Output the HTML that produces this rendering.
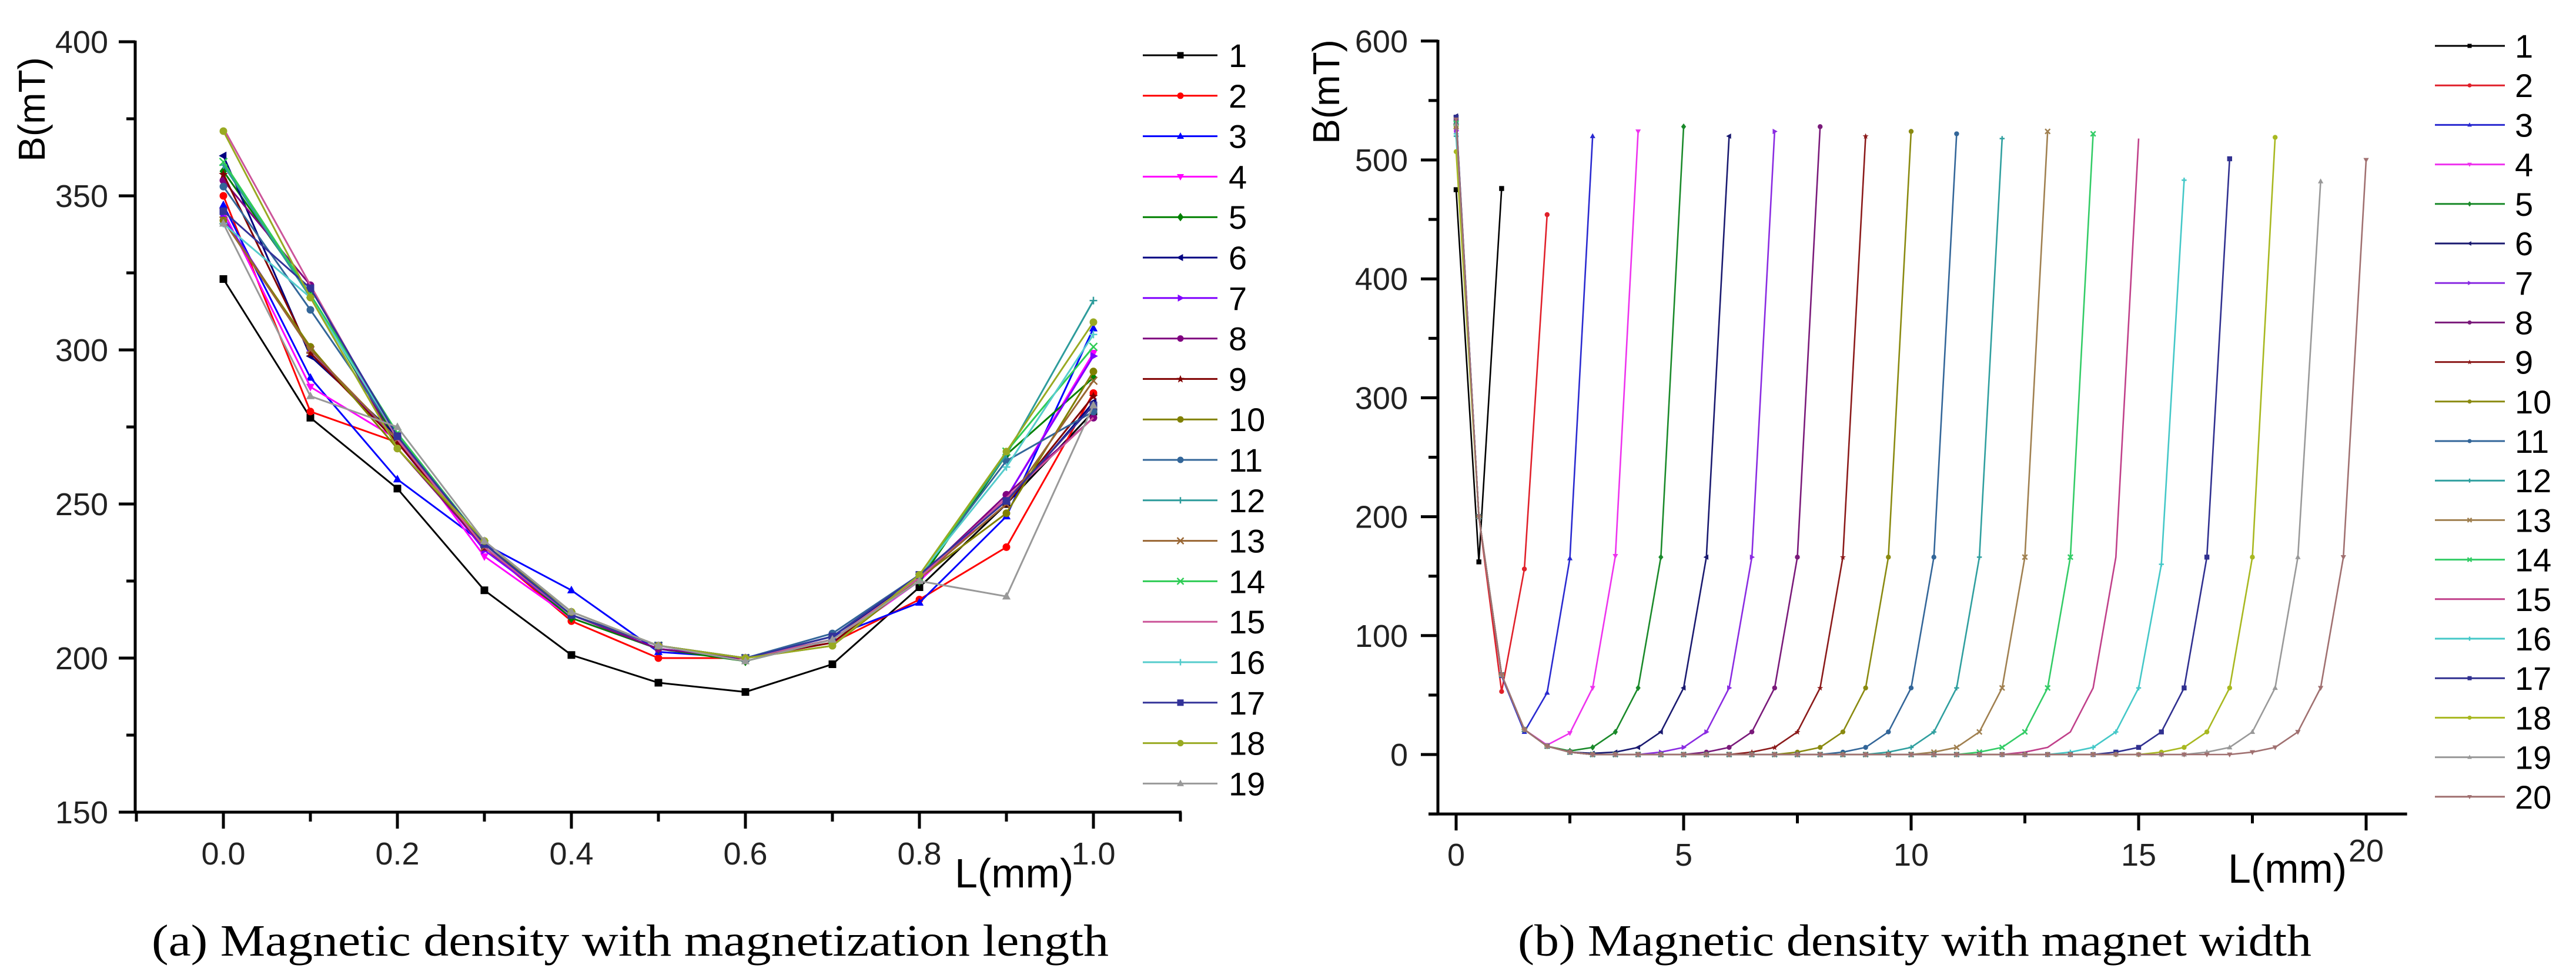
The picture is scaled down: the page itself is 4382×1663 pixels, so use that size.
<!DOCTYPE html>
<html><head><meta charset="utf-8"><style>
html,body{margin:0;padding:0;background:#fff;}
svg{display:block;}
</style></head><body>
<svg id="fig" xmlns="http://www.w3.org/2000/svg" width="4382" height="1663" viewBox="0 0 4382 1663">
<rect width="4382" height="1663" fill="#fff"/>
<g id="chartA"></g>
<g id="chartB"></g>
<text x="258" y="1625" font-family="Liberation Serif, serif" font-size="76" textLength="1628" lengthAdjust="spacingAndGlyphs" fill="#000">(a) Magnetic density with magnetization length</text>
<text x="2582" y="1625" font-family="Liberation Serif, serif" font-size="76" textLength="1350" lengthAdjust="spacingAndGlyphs" fill="#000">(b) Magnetic density with magnet width</text>
</svg>
<script>
// ---------- Chart A data ----------
const aX = [0,0.1,0.2,0.3,0.4,0.5,0.6,0.7,0.8,0.9,1.0];
const aNames = ["1","2","3","4","5","6","7","8","9","10","11","12","13","14","15","16","17","18","19"];
const a1 = [323,278,255,222,201,192,189,198,223,250,280];
const a2 = [350,280,270,236,212,200,200,205,219,236,286];
const a3 = [347,291,258,237,222,202,200,207,218,246,307];
const a4 = [345,288,271,233,213,203,200,205,225,252,299];
const a5 = [358,318,270,236,213,203,199,206,225,266,291];
const a6 = [363,298,272,236,214,204,200,207,226,250,283];
const a7 = [343,300,270,235,214,203,200,206,226,252,298];
const a8 = [355,321,268,236,214,203,200,206,226,253,278];
const a9 = [357,299,270,236,214,204,200,205,226,250,285];
const a10 = [342,301,268,237,215,204,200,204,226,247,293];
const a11 = [353,313,272,237,214,204,200,208,227,264,280];
const a12 = [360,317,272,237,214,204,200,207,227,266,316];
const a13 = [342,300,271,236,214,204,200,206,226,250,290];
const a14 = [361,318,273,237,214,204,200,206,226,267,301];
const a15 = [372,321,271,236,214,204,200,206,226,252,278];
const a16 = [341,317,272,237,214,204,200,207,227,262,305];
const a17 = [345,320,272,237,214,204,200,207,227,251,282];
const a18 = [371,317,268,238,215,204,200,204,227,267,309];
const a19 = [341,285,275,238,215,204,199,206,225,220,282];
const aSeries = [a1,a2,a3,a4,a5,a6,a7,a8,a9,a10,a11,a12,a13,a14,a15,a16,a17,a18,a19];
const aYTicks = [150,200,250,300,350,400];
const aXTicks = [0,0.2,0.4,0.6,0.8,1.0];
const aXTickLabels = ["0.0","0.2","0.4","0.6","0.8","1.0"];

// ---------- Chart B data ----------
const bNames = ["1","2","3","4","5","6","7","8","9","10","11","12","13","14","15","16","17","18","19","20"];
const bStep = 0.5;
const b1 = [475,162,476];
const b2 = [530,200,53,156,454];
const b3 = [535,200,66,19,52,165,520];
const b4 = [523,200,67,21,8,18,56,167,524];
const b5 = [532,200,67,21,7,3,6,19,56,166,528];
const b6 = [537,200,67,21,7,2,1,2,6,19,56,166,520];
const b7 = [525,200,67,21,7,2,0,0,0,2,6,19,56,166,524];
const b8 = [533,200,67,21,7,2,0,0,0,0,0,2,6,19,56,166,528];
const b9 = [530,200,67,21,7,2,0,0,0,0,0,0,0,2,6,19,56,166,520];
const b10 = [528,200,67,21,7,2,0,0,0,0,0,0,0,0,0,2,6,19,56,166,524];
const b11 = [531,200,67,21,7,2,0,0,0,0,0,0,0,0,0,0,0,2,6,19,56,166,522];
const b12 = [520,200,67,21,7,2,0,0,0,0,0,0,0,0,0,0,0,0,0,2,6,19,56,166,518];
const b13 = [528,200,67,21,7,2,0,0,0,0,0,0,0,0,0,0,0,0,0,0,0,2,6,19,56,166,524];
const b14 = [531,200,67,21,7,2,0,0,0,0,0,0,0,0,0,0,0,0,0,0,0,0,0,2,6,19,56,166,522];
const b15 = [527,200,67,21,7,2,0,0,0,0,0,0,0,0,0,0,0,0,0,0,0,0,0,0,0,2,6,19,56,166,518];
const b16 = [522,200,67,21,7,2,0,0,0,0,0,0,0,0,0,0,0,0,0,0,0,0,0,0,0,0,0,2,6,19,56,160,483];
const b17 = [536,200,67,21,7,2,0,0,0,0,0,0,0,0,0,0,0,0,0,0,0,0,0,0,0,0,0,0,0,2,6,19,56,166,501];
const b18 = [507,200,67,21,7,2,0,0,0,0,0,0,0,0,0,0,0,0,0,0,0,0,0,0,0,0,0,0,0,0,0,2,6,19,56,166,519];
const b19 = [530,200,67,21,7,2,0,0,0,0,0,0,0,0,0,0,0,0,0,0,0,0,0,0,0,0,0,0,0,0,0,0,0,2,6,19,56,166,482];
const b20 = [534,200,67,21,7,2,0,0,0,0,0,0,0,0,0,0,0,0,0,0,0,0,0,0,0,0,0,0,0,0,0,0,0,0,0,2,6,19,56,166,500];
const bSeries = [b1,b2,b3,b4,b5,b6,b7,b8,b9,b10,b11,b12,b13,b14,b15,b16,b17,b18,b19,b20];
const bYTicks = [0,100,200,300,400,500,600];
const bXTicks = [0,5,10,15,20];

const aColors = ["#000000","#ff0000","#0000ff","#ff00ff","#008000","#000080","#8000ff","#800080","#800000","#808000","#336699","#2e9c9c","#996633","#2ecc55","#cc5599","#55cccc","#333399","#99aa22","#999999"];
const aMarkers = ["square","circle","tri-up","tri-down","diamond","tri-left","tri-right","circle","star","circle","circle","plus","cross","cross","none","plus","square","circle","tri-up"];
const bColors = ["#000000","#e0202a","#2a2ad0","#ee33ee","#1a8a2a","#1a1a70","#8a2be2","#7a1a7a","#8b1a1a","#8a8a10","#336699","#2f9f9f","#a08050","#33cc66","#c0408a","#44c8c8","#303090","#a8b820","#999999","#a07070"];

const NS = "http://www.w3.org/2000/svg";
function mk(tag, attrs, parent){
  const e = document.createElementNS(NS, tag);
  for (const k in attrs) e.setAttribute(k, attrs[k]);
  parent.appendChild(e);
  return e;
}
function marker(parent, type, cx, cy, s, color){
  let e;
  if (type==="square"){ e = mk("rect",{x:cx-s,y:cy-s,width:2*s,height:2*s,fill:color},parent); }
  else if (type==="circle"){ e = mk("circle",{cx:cx,cy:cy,r:s,fill:color},parent); }
  else if (type==="tri-up"){ e = mk("polygon",{points:`${cx},${cy-s*1.2} ${cx-s*1.1},${cy+s*0.8} ${cx+s*1.1},${cy+s*0.8}`,fill:color},parent); }
  else if (type==="tri-down"){ e = mk("polygon",{points:`${cx},${cy+s*1.2} ${cx-s*1.1},${cy-s*0.8} ${cx+s*1.1},${cy-s*0.8}`,fill:color},parent); }
  else if (type==="tri-left"){ e = mk("polygon",{points:`${cx-s*1.2},${cy} ${cx+s*0.8},${cy-s*1.1} ${cx+s*0.8},${cy+s*1.1}`,fill:color},parent); }
  else if (type==="tri-right"){ e = mk("polygon",{points:`${cx+s*1.2},${cy} ${cx-s*0.8},${cy-s*1.1} ${cx-s*0.8},${cy+s*1.1}`,fill:color},parent); }
  else if (type==="diamond"){ e = mk("polygon",{points:`${cx},${cy-s*1.3} ${cx+s},${cy} ${cx},${cy+s*1.3} ${cx-s},${cy}`,fill:color},parent); }
  else if (type==="star"){ e = mk("polygon",{points:`${cx},${cy-s*1.2} ${cx+s*0.35},${cy-s*0.35} ${cx+s*1.2},${cy-s*0.3} ${cx+s*0.5},${cy+s*0.25} ${cx+s*0.75},${cy+s*1.1} ${cx},${cy+s*0.6} ${cx-s*0.75},${cy+s*1.1} ${cx-s*0.5},${cy+s*0.25} ${cx-s*1.2},${cy-s*0.3} ${cx-s*0.35},${cy-s*0.35}`,fill:color},parent); }
  else if (type==="plus"){ e = mk("path",{d:`M${cx-s} ${cy}H${cx+s}M${cx} ${cy-s}V${cy+s}`,stroke:color,"stroke-width":2.5,fill:"none"},parent); }
  else if (type==="cross"){ e = mk("path",{d:`M${cx-s} ${cy-s}L${cx+s} ${cy+s}M${cx+s} ${cy-s}L${cx-s} ${cy+s}`,stroke:color,"stroke-width":2.5,fill:"none"},parent); }
  else return null;
  return e;
}

// ---------- Chart A ----------
(function(){
  const g = document.getElementById("chartA");
  const X0 = 380, XS = 1480;              // px per unit
  const Y0 = 1381, YS = 5.24, YMIN = 150; // px per mT
  const xS = v => X0 + v*XS;
  const yS = v => Y0 - (v-YMIN)*YS;
  const font = "Liberation Sans, Arial, sans-serif";

  const ax = mk("g",{},g);
  
  
  // y axis
  mk("line",{x1:230,y1:yS(400)-2,x2:230,y2:Y0+2,stroke:"#000","stroke-width":5},ax);
  // x axis
  mk("line",{x1:202,y1:Y0,x2:xS(1.1)+2,y2:Y0,stroke:"#000","stroke-width":5},ax);
  for (let v=150; v<=400; v+=25){
    const major = aYTicks.indexOf(v) >= 0;
    mk("line",{x1:major?202:215,y1:yS(v),x2:230,y2:yS(v),stroke:"#000","stroke-width":5},ax);
  }
  aYTicks.forEach(v=>{
    const t = mk("text",{x:184,y:yS(v)+19,"text-anchor":"end","font-family":font,"font-size":54,fill:"#222"},ax);
    t.textContent = String(v);
    
    
  });
  for (let i=-1; i<=11; i++){
    const v = i/10;
    const major = aXTicks.some(t=>Math.abs(t-v)<1e-9);
    mk("line",{x1:xS(v),y1:Y0,x2:xS(v),y2:Y0+(major?28:16),stroke:"#000","stroke-width":5},ax);
  }
  aXTicks.forEach((v,i)=>{
    const isLast = i===aXTicks.length-1;
    const t = mk("text",{x:xS(v),y:isLast?1470:1470,"text-anchor":"middle","font-family":font,"font-size":54,fill:"#222"},ax);
    t.textContent = aXTickLabels[i];
    
    
  });
  const xt = mk("text",{x:1624,y:1509,"font-family":font,"font-size":70,fill:"#000"},ax);
  xt.textContent = "L(mm)";
  
  
  const yt = mk("text",{x:0,y:0,transform:"translate(76,186) rotate(-90)","text-anchor":"middle","font-family":font,"font-size":64,fill:"#000"},ax);
  yt.textContent = "B(mT)";
  
  

  aSeries.forEach((vals,si)=>{
    const sg = mk("g",{},g);
    
    
    const pts = vals.map((v,i)=>xS(aX[i])+","+yS(v)).join(" ");
    mk("polyline",{points:pts,fill:"none",stroke:aColors[si],"stroke-width":3,"stroke-linejoin":"round"},sg);
    vals.forEach((v,i)=>{
      const m = marker(sg, aMarkers[si], xS(aX[i]), yS(v), 6.5, aColors[si]);
      if (m){
        
        
      }
    });
  });

  // legend
  const lg = mk("g",{},g);
  
  
  aNames.forEach((n,i)=>{
    const y = 94 + i*68.8;
    const eg = mk("g",{},lg);
    
    
    mk("line",{x1:1944,y1:y,x2:2071,y2:y,stroke:aColors[i],"stroke-width":3},eg);
    marker(eg, aMarkers[i], 2008, y, 5.5, aColors[i]);
    const t = mk("text",{x:2090,y:y+20,"font-family":font,"font-size":56,fill:"#000"},eg);
    t.textContent = n;
  });
})();

// ---------- Chart B ----------
(function(){
  const g = document.getElementById("chartB");
  const X0 = 2477, XS = 77.4;
  const Y0 = 1283, YS = 2.022;
  const xS = v => X0 + v*XS;
  const yS = v => Y0 - v*YS;
  const font = "Liberation Sans, Arial, sans-serif";
  const bMarks = ["square","circle","tri-up","tri-down","diamond","tri-left","tri-right","circle","star","circle","circle","plus","cross","cross","none","plus","square","circle","tri-up","tri-down"];

  const ax = mk("g",{},g);
  
  
  mk("line",{x1:2446,y1:yS(600)-2,x2:2446,y2:yS(-50)+2,stroke:"#000","stroke-width":5},ax);
  mk("line",{x1:2430,y1:yS(-50),x2:xS(20.9),y2:yS(-50),stroke:"#000","stroke-width":5},ax);
  for (let v=-50; v<=600; v+=50){
    const major = bYTicks.indexOf(v) >= 0;
    mk("line",{x1:major?2417:2430,y1:yS(v),x2:2446,y2:yS(v),stroke:"#000","stroke-width":5},ax);
  }
  bYTicks.forEach(v=>{
    const t = mk("text",{x:2395,y:yS(v)+19,"text-anchor":"end","font-family":font,"font-size":54,fill:"#222"},ax);
    t.textContent = String(v);
    
    
  });
  const yb = yS(-50);
  for (let v=0; v<=20; v+=2.5){
    const major = bXTicks.indexOf(v) >= 0;
    mk("line",{x1:xS(v),y1:yb,x2:xS(v),y2:yb+(major?28:16),stroke:"#000","stroke-width":5},ax);
  }
  bXTicks.forEach((v,i)=>{
    const isLast = i===bXTicks.length-1;
    const t = mk("text",{x:xS(v),y:isLast?1465:1472,"text-anchor":"middle","font-family":font,"font-size":54,fill:"#222"},ax);
    t.textContent = String(v);
    
    
  });
  const xt = mk("text",{x:3790,y:1501,"font-family":font,"font-size":70,fill:"#000"},ax);
  xt.textContent = "L(mm)";
  
  
  const yt = mk("text",{x:0,y:0,transform:"translate(2278,156) rotate(-90)","text-anchor":"middle","font-family":font,"font-size":64,fill:"#000"},ax);
  yt.textContent = "B(mT)";
  
  

  bSeries.forEach((vals,si)=>{
    const sg = mk("g",{},g);
    
    
    const pts = vals.map((v,i)=>xS(i*bStep)+","+yS(v)).join(" ");
    mk("polyline",{points:pts,fill:"none",stroke:bColors[si],"stroke-width":2.6,"stroke-linejoin":"round"},sg);
    vals.forEach((v,i)=>{
      const m = marker(sg, bMarks[si], xS(i*bStep), yS(v), 4.2, bColors[si]);
      if (m){
        
        
      }
    });
  });

  const lg = mk("g",{},g);
  
  
  bNames.forEach((n,i)=>{
    const y = 78 + i*67.2;
    const eg = mk("g",{},lg);
    
    
    mk("line",{x1:4142,y1:y,x2:4261,y2:y,stroke:bColors[i],"stroke-width":3},eg);
    marker(eg, bMarks[i], 4201, y, 3.5, bColors[i]);
    const t = mk("text",{x:4278,y:y+20,"font-family":font,"font-size":56,fill:"#000"},eg);
    t.textContent = n;
  });
})();
</script>
</body></html>
